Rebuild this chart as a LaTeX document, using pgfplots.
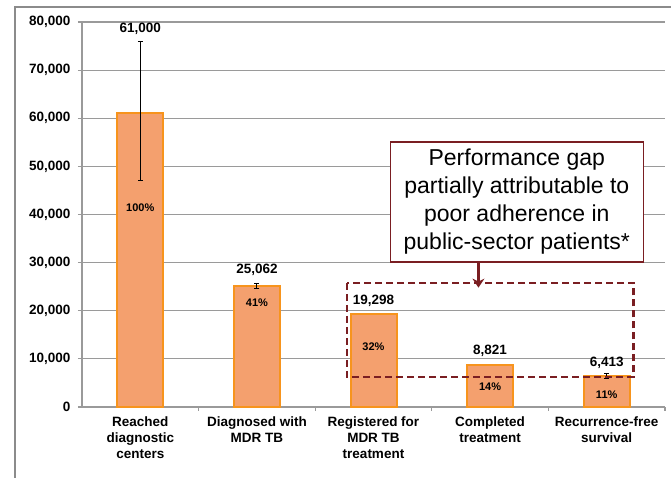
\documentclass[border=0pt]{standalone}
\usepackage{fontspec}
\setmainfont{Liberation Sans}
\usepackage{pgfplots}
\pgfplotsset{compat=1.18}
\usetikzlibrary{arrows.meta}
\definecolor{barfill}{HTML}{F4A06E}
\definecolor{baredge}{HTML}{F7941D}
\definecolor{darkred}{HTML}{7A1E22}
\definecolor{gridgray}{HTML}{9A9A9A}
\begin{document}
\begin{tikzpicture}[x=1pt,y=1pt]
\path[use as bounding box] (0,0) rectangle (671,478);
\draw[gridgray!90!black, line width=1.3pt] (15,0) -- (15,471) -- (671,471);
\begin{axis}[
  at={(82pt,71pt)}, anchor=south west,
  scale only axis, width=583pt, height=385pt,
  xmin=-0.5, xmax=4.5, ymin=0, ymax=80000,
  ytick distance=10000,
  scaled y ticks=false,
  /pgf/number format/.cd, 1000 sep={,}, assume math mode=true, /pgfplots/.cd,
  yticklabel style={font=\bfseries\fontsize{13.5}{15}\selectfont, xshift=-4pt},
  axis x line*=bottom, axis y line*=left,
  axis line style={gridgray, line width=1.2pt, -},
  ymajorgrids, grid style={gridgray, line width=1.2pt},
  xtick={0,1,2,3,4},
  xticklabels={Reached\\diagnostic\\centers, Diagnosed with\\MDR TB, Registered for\\MDR TB\\treatment, Completed\\treatment, Recurrence-free\\survival},
  xticklabel style={font=\bfseries\fontsize{13.5}{16}\selectfont, align=center, yshift=-2pt},
  major x tick style={draw=none},
  minor xtick={0.5,1.5,2.5,3.5,4.5},
  minor x tick style={gridgray, line width=1.2pt},
  major y tick style={gridgray, line width=1.2pt},
  tick align=outside, major tick length=4pt, minor tick length=4pt,
  ybar, bar width=46pt, bar shift=0pt,
  clip=false,
]
\addplot[fill=barfill, draw=baredge, line width=2pt, bar shift=0pt]
  coordinates {
  (0,61000)
  (1,25062)
  (2,19298)
  (3,8821)
  (4,6413)
};
\addplot[draw=none, fill=none, forget plot, bar shift=0pt,
  error bars/.cd, y dir=both, y explicit,
  error bar style={black, line width=1pt}, error mark options={black, line width=1pt, mark size=2.5pt, rotate=90}]
  coordinates {
  (0,61000) += (0,15000) -= (0,14000)
  (1,25062) += (0,500) -= (0,500)
  (4,6413) += (0,500) -= (0,500)
};
% value labels
\node[font=\bfseries\fontsize{13.5}{15}\selectfont] at (axis cs:0,78600) {61,000};
\node[font=\bfseries\fontsize{13.5}{15}\selectfont] at (axis cs:1,28400) {25,062};
\node[font=\bfseries\fontsize{13.5}{15}\selectfont] at (axis cs:2,22000) {19,298};
\node[font=\bfseries\fontsize{13.5}{15}\selectfont] at (axis cs:3,11600) {8,821};
\node[font=\bfseries\fontsize{13.5}{15}\selectfont] at (axis cs:4,9100) {6,413};
% percent labels
\node[font=\bfseries\fontsize{11}{13}\selectfont] at (axis cs:0,41400) {100\%};
\node[font=\bfseries\fontsize{11}{13}\selectfont] at (axis cs:1,21600) {41\%};
\node[font=\bfseries\fontsize{11}{13}\selectfont] at (axis cs:2,12500) {32\%};
\node[font=\bfseries\fontsize{11}{13}\selectfont] at (axis cs:3,4200) {14\%};
\node[font=\bfseries\fontsize{11}{13}\selectfont] at (axis cs:4,2500) {11\%};
% dashed box
\draw[darkred, line width=2.2pt, dash pattern=on 7pt off 4pt] (axis cs:1.775,25800) rectangle (axis cs:4.23,6240);
% text box
\node[draw=darkred, line width=1.6pt, fill=white, minimum width=253pt, minimum height=120pt, align=center,
  font=\fontsize{23}{28}\selectfont, inner sep=1pt] at (axis cs:3.229,42620)
  {Performance gap\\partially attributable to\\poor adherence in\\public-sector patients*};
\draw[darkred, line width=2.5pt, -{Stealth[length=9pt, width=12pt]}] (axis cs:2.9,30000) -- (axis cs:2.9,24800);
\end{axis}
\end{tikzpicture}
\end{document}
